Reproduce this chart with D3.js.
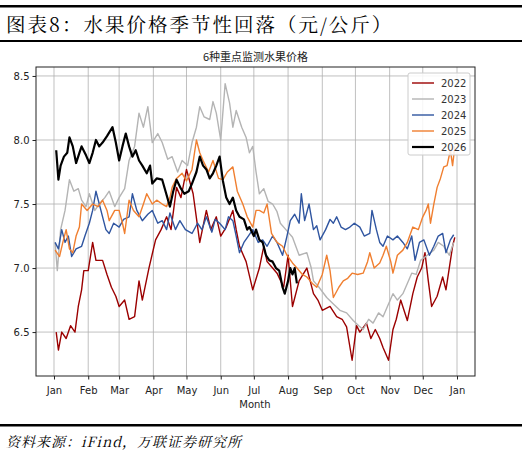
<!DOCTYPE html>
<html><head><meta charset="utf-8">
<script src="https://cdn.jsdelivr.net/npm/d3@7/dist/d3.min.js"></script>
<style>body{margin:0;background:#fff}</style></head>
<body><svg id="c" width="522" height="457"></svg>
<script>
const years = ["2022","2023","2024","2025","2026"];
const colors = ["#9b0000","#b4b4b4","#2f55a0","#f07f30","#000000"];
const monthLabels = ["Jan","Feb","Mar","Apr","May","Jun","Jul","Aug","Sep","Oct","Nov","Dec","Jan"];
const monthDays = [0,31,59,90,120,151,181,212,243,273,304,334,365];
const yTicks = [6.5,7.0,7.5,8.0,8.5];
// [dayOfYear, price]
const s2022 = [[2,6.5],[4,6.36],[7,6.5],[11,6.45],[15,6.55],[19,6.5],[22,6.7],[25,6.83],[27,6.98],[31,6.98],[35,7.2],[38,7.06],[44,7.06],[48,6.95],[52,6.85],[56,6.78],[59,6.7],[64,6.75],[68,6.6],[73,6.62],[77,6.9],[80,6.75],[86,7.0],[92,7.22],[97,7.3],[102,7.4],[106,7.3],[111,7.63],[115,7.55],[120,7.77],[126,7.58],[132,7.2],[138,7.45],[142,7.3],[147,7.4],[151,7.25],[156,7.32],[162,7.45],[165,7.3],[168,7.17],[174,7.05],[180,6.83],[186,7.0],[190,7.17],[193,7.05],[198,7.0],[202,6.96],[208,6.85],[212,7.1],[216,6.7],[222,6.9],[229,7.0],[235,6.8],[239,6.75],[243,6.67],[250,6.7],[256,6.62],[261,6.6],[265,6.54],[270,6.28],[274,6.55],[277,6.5],[283,6.57],[287,6.45],[291,6.52],[295,6.45],[298,6.38],[303,6.28],[307,6.52],[310,6.6],[314,6.75],[320,6.59],[325,6.8],[329,6.93],[333,7.0],[336,7.12],[339,6.9],[342,6.7],[347,6.78],[352,6.93],[355,6.83],[358,7.0],[361,7.17],[363,7.24]];
const s2023 = [[1,7.2],[3,6.98],[6,7.3],[10,7.45],[14,7.69],[18,7.6],[22,7.62],[25,7.53],[29,7.48],[32,7.58],[37,7.45],[41,7.5],[46,7.55],[50,7.6],[55,7.48],[59,7.55],[64,7.62],[68,7.84],[73,7.95],[77,8.21],[81,8.1],[85,8.26],[89,7.98],[94,8.05],[98,7.98],[103,7.85],[107,7.87],[112,7.75],[116,7.84],[121,7.8],[125,7.98],[129,8.1],[132,8.26],[136,8.18],[141,8.16],[144,8.3],[147,8.21],[151,8.0],[155,8.44],[159,8.29],[162,8.1],[165,8.23],[170,8.1],[174,8.02],[177,7.9],[180,7.95],[183,7.75],[186,7.58],[190,7.62],[194,7.52],[198,7.5],[202,7.44],[205,7.35],[210,7.3],[216,7.24],[222,7.1],[229,7.12],[233,7.0],[235,6.9],[240,6.85],[247,6.77],[253,6.72],[259,6.67],[265,6.65],[271,6.59],[276,6.55],[280,6.52],[285,6.6],[289,6.57],[294,6.65],[298,6.62],[302,6.7],[307,6.8],[311,6.75],[316,6.8],[320,6.88],[324,6.96],[328,6.95],[332,7.06],[338,7.1],[344,7.14],[348,7.2],[353,7.17],[358,7.1],[362,7.2]];
const s2024 = [[1,7.2],[4,7.15],[7,7.3],[10,7.2],[13,7.25],[16,7.09],[20,7.15],[25,7.17],[28,7.25],[32,7.35],[35,7.45],[38,7.6],[41,7.5],[44,7.4],[47,7.3],[50,7.27],[54,7.35],[59,7.32],[63,7.38],[68,7.4],[71,7.58],[75,7.45],[80,7.37],[85,7.42],[89,7.45],[94,7.35],[98,7.37],[102,7.3],[105,7.43],[110,7.3],[114,7.37],[119,7.3],[125,7.27],[130,7.35],[134,7.3],[138,7.4],[143,7.28],[146,7.38],[150,7.35],[155,7.3],[158,7.4],[162,7.37],[165,7.25],[168,7.12],[172,7.2],[176,7.25],[180,7.3],[185,7.2],[189,7.22],[193,7.17],[198,7.25],[202,7.2],[207,7.1],[211,7.25],[214,7.37],[218,7.42],[222,7.35],[224,7.58],[227,7.37],[231,7.5],[235,7.3],[238,7.33],[241,7.22],[246,7.3],[250,7.38],[253,7.35],[256,7.4],[260,7.32],[264,7.3],[268,7.32],[272,7.35],[277,7.32],[281,7.25],[286,7.27],[288,7.45],[292,7.3],[295,7.2],[298,7.17],[302,7.25],[307,7.22],[311,7.25],[316,7.2],[320,7.15],[324,7.25],[327,7.06],[331,7.2],[335,7.22],[340,7.1],[344,7.17],[348,7.25],[352,7.27],[355,7.12],[359,7.22],[362,7.26]];
const s2025 = [[1,7.14],[5,7.09],[8,7.2],[11,7.3],[14,7.15],[17,7.12],[20,7.25],[23,7.32],[25,7.5],[30,7.45],[35,7.5],[40,7.48],[44,7.53],[48,7.45],[50,7.37],[55,7.45],[59,7.45],[62,7.35],[64,7.27],[68,7.53],[72,7.45],[77,7.4],[81,7.5],[84,7.58],[89,7.5],[93,7.53],[98,7.5],[102,7.48],[105,7.55],[107,7.63],[111,7.7],[116,7.74],[120,7.68],[125,7.77],[129,8.0],[132,7.9],[135,7.84],[140,7.75],[144,7.84],[149,7.7],[153,7.69],[157,7.75],[162,7.79],[166,7.6],[171,7.5],[175,7.4],[180,7.32],[183,7.45],[186,7.45],[190,7.43],[193,7.5],[197,7.27],[202,7.2],[207,7.17],[211,7.1],[216,7.04],[220,7.0],[225,6.95],[229,6.93],[234,6.88],[238,6.85],[243,6.95],[247,7.1],[250,6.98],[253,6.77],[258,6.85],[262,6.9],[266,6.92],[270,6.96],[275,6.95],[280,6.96],[284,7.05],[286,7.12],[290,7.0],[295,7.04],[298,7.1],[301,7.17],[305,7.05],[307,6.96],[311,7.1],[316,7.14],[320,7.2],[325,7.32],[330,7.3],[334,7.4],[337,7.45],[339,7.5],[341,7.35],[344,7.5],[347,7.63],[350,7.7],[353,7.79],[356,7.8],[359,7.92],[361,7.8],[363,7.95]];
const s2026 = [[2,7.92],[4,7.69],[6,7.8],[9,7.87],[12,7.9],[14,8.02],[17,7.95],[20,7.82],[23,7.9],[25,7.95],[29,7.88],[32,7.82],[35,7.9],[38,8.0],[41,7.95],[44,7.98],[48,8.03],[53,8.1],[56,7.98],[59,7.84],[62,7.95],[65,8.05],[68,7.95],[71,7.87],[74,7.92],[77,7.84],[80,7.8],[84,7.74],[87,7.8],[89,7.66],[93,7.7],[98,7.69],[101,7.6],[105,7.48],[108,7.6],[111,7.69],[115,7.62],[118,7.58],[122,7.6],[125,7.66],[129,7.75],[132,7.87],[135,7.8],[138,7.77],[141,7.7],[144,7.74],[147,7.8],[150,7.87],[153,7.68],[156,7.55],[159,7.5],[162,7.55],[165,7.45],[168,7.4],[172,7.38],[175,7.3],[177,7.32],[181,7.25],[183,7.3],[186,7.22],[189,7.2],[192,7.1],[195,7.06],[198,7.05],[201,7.0],[204,6.98],[207,6.85],[209,6.8],[212,6.9],[214,7.0],[216,6.95],[218,7.0],[220,6.88]];
const series = [s2022,s2023,s2024,s2025,s2026];

const svg = d3.select("#c");
const serif = "'Noto Serif CJK SC','Noto Sans CJK SC',serif";
svg.append("rect").attr("x",0).attr("y",5).attr("width",522).attr("height",2.5).attr("fill","#000");
svg.append("rect").attr("x",0).attr("y",40).attr("width",522).attr("height",2).attr("fill","#000");
svg.append("rect").attr("x",0).attr("y",424).attr("width",522).attr("height",2.5).attr("fill","#000");
svg.append("text").attr("x",6).attr("y",32).attr("font-family",serif).attr("font-size",19.5).attr("letter-spacing",2).text("图表8：水果价格季节性回落（元/公斤）");
svg.append("text").attr("x",6).attr("y",447).attr("font-family",serif).attr("font-style","italic").attr("font-size",14).attr("letter-spacing",1).text("资料来源：iFind，万联证券研究所");

const L=36,R=475,T=67,B=376;
const x = d3.scaleLinear().domain([-16.3,381.3]).range([L,R]);
const y = d3.scaleLinear().domain([6.157,8.57]).range([B,T]);
const g = svg.append("g").attr("font-family","'DejaVu Sans',sans-serif");
g.append("text").attr("x",(L+R)/2).attr("y",61).attr("text-anchor","middle").attr("font-size",11).attr("fill","#222").attr("font-family","'Noto Sans CJK SC',sans-serif").text("6种重点监测水果价格");
// grid
g.selectAll(".gx").data(monthDays).join("line").attr("x1",d=>x(d)).attr("x2",d=>x(d)).attr("y1",T).attr("y2",B).attr("stroke","#b0b0b0").attr("stroke-width",0.8);
g.selectAll(".gy").data(yTicks).join("line").attr("x1",L).attr("x2",R).attr("y1",d=>y(d)).attr("y2",d=>y(d)).attr("stroke","#b0b0b0").attr("stroke-width",0.8);
const xAxis = d3.axisBottom(x).tickValues(monthDays).tickFormat((d,i)=>monthLabels[i]).tickSize(3.5).tickSizeOuter(0);
const ax = g.append("g").attr("transform",`translate(0,${B})`).call(xAxis);
const ay = g.append("g").attr("transform",`translate(${L},0)`).call(d3.axisLeft(y).tickValues(yTicks).tickFormat(d3.format(".1f")).tickSize(3.5).tickSizeOuter(0));
[ax,ay].forEach(a=>{a.select(".domain").remove();a.selectAll("text").attr("font-size",10).attr("fill","#222").attr("font-family","'DejaVu Sans',sans-serif");a.selectAll(".tick line").attr("stroke","#222");});
ax.selectAll("text").attr("dy","1.1em");
g.append("text").attr("x",x(182)).attr("y",408).attr("text-anchor","middle").attr("font-size",10).attr("fill","#222").text("Month");
const line = d3.line().x(d=>x(d[0])).y(d=>y(d[1]));
series.forEach((s,i)=>g.append("path").datum(s).attr("d",line).attr("fill","none").attr("stroke",colors[i]).attr("stroke-width",i===4?2.2:1.4).attr("stroke-linejoin","round"));
g.append("rect").attr("x",L).attr("y",T).attr("width",R-L).attr("height",B-T).attr("fill","none").attr("stroke","#222").attr("stroke-width",1);
// legend
const lg = g.append("g");
lg.append("rect").attr("x",408).attr("y",73).attr("width",62).attr("height",82).attr("rx",2).attr("fill","#fff").attr("fill-opacity",0.85).attr("stroke","#ccc");
years.forEach((yr,i)=>{const yy=83+i*16;
 lg.append("line").attr("x1",412).attr("x2",434).attr("y1",yy).attr("y2",yy).attr("stroke",colors[i]).attr("stroke-width",i===4?2.2:1.4);
 lg.append("text").attr("x",441).attr("y",yy+3.5).attr("font-size",10).attr("fill","#333").text(yr);});
</script></body></html>
